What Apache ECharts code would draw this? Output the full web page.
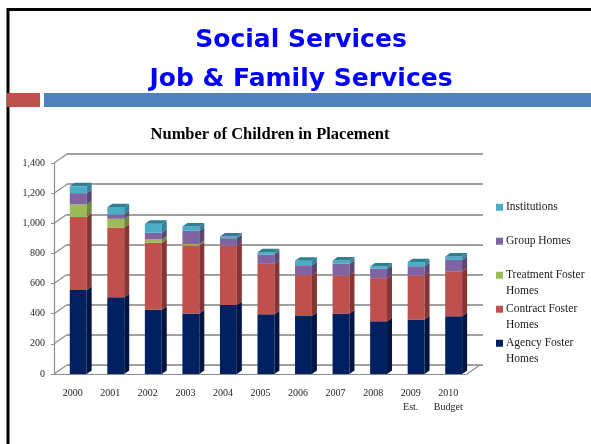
<!DOCTYPE html>
<html>
<head>
<meta charset="utf-8">
<script src="https://cdn.jsdelivr.net/npm/echarts@6/dist/echarts.min.js"></script>
<style>
  html, body { margin: 0; padding: 0; background: #fff; }
  #chart { width: 591px; height: 444px; }
</style>
</head>
<body>
<div id="chart"></div>
<script>
// Number of children in placement, by year and placement type
const years = ['2000', '2001', '2002', '2003', '2004', '2005', '2006', '2007', '2008', '2009\nEst.', '2010\nBudget'];
const agencyFoster    = [558, 510, 427, 401, 458, 396, 385, 401, 350, 361, 383];
const contractFoster  = [483, 462, 443, 452, 392, 335, 271, 252, 286, 292, 299];
const treatmentFoster = [84, 58, 23, 9, 0, 0, 0, 0, 0, 0, 0];
const groupHomes      = [75, 29, 44, 88, 51, 62, 66, 78, 62, 62, 75];
const institutions    = [45, 48, 60, 29, 11, 15, 29, 22, 15, 27, 23];
const yTickValues = [0, 200, 400, 600, 800, 1000, 1200, 1400];

// stack order, bottom to top
const layers = [
  { name: 'Agency Foster Homes',    data: agencyFoster,    front: '#002060', side: '#00153f', top: '#0a2a70' },
  { name: 'Contract Foster Homes',  data: contractFoster,  front: '#C0504D', side: '#853633', top: '#cf6461' },
  { name: 'Treatment Foster Homes', data: treatmentFoster, front: '#9BBB59', side: '#6e873c', top: '#adc874' },
  { name: 'Group Homes',            data: groupHomes,      front: '#8064A2', side: '#5a4674', top: '#9580b2' },
  { name: 'Institutions',           data: institutions,    front: '#4BACC6', side: '#31849B', top: '#2f7f94' }
];
const legendOrder = ['Institutions', 'Group Homes', 'Treatment Foster Homes', 'Contract Foster Homes', 'Agency Foster Homes'];
// blank first line keeps each swatch level with the first text line
const legendText = {
  'Institutions': '\nInstitutions\n',
  'Group Homes': '\nGroup Homes\n',
  'Treatment Foster Homes': '\nTreatment Foster\nHomes',
  'Contract Foster Homes': '\nContract Foster\nHomes',
  'Agency Foster Homes': '\nAgency Foster\nHomes'
};

// 3-D look: depth offsets of the back wall and of each column
const WALL_DX = 13, WALL_DY = 9;
const BAR_DX = 5, BAR_DY = 3.5;
const FRONT = { left: 54, top: 163, width: 413, height: 211 };

// cumulative bases for the stacked columns
const bases = years.map(() => 0);
const topLayer = years.map((_, i) => {
  let t = -1;
  layers.forEach((l, k) => { if (l.data[i] > 0) t = k; });
  return t;
});
const barSeries = layers.map((layer, k) => {
  const data = years.map((_, i) => {
    const b = bases[i];
    const t = b + layer.data[i];
    bases[i] = t;
    return [i, b, t, topLayer[i] === k ? 1 : 0];
  });
  return {
    name: layer.name,
    type: 'custom',
    xAxisIndex: 0,
    yAxisIndex: 0,
    z: 10,
    itemStyle: { color: layer.front },
    encode: { x: 0, y: [1, 2] },
    data: data,
    renderItem: function (params, api) {
      const i = api.value(0), b = api.value(1), t = api.value(2), isTop = api.value(3);
      if (t <= b) return null;
      const band = api.size([1, 0])[0];
      const p0 = api.coord([i, b]);
      const p1 = api.coord([i, t]);
      const w = band * 0.45;
      const L = p0[0] - band * 0.08;
      const R = L + w;
      const yb = p0[1], yt = p1[1];
      const children = [
        { type: 'rect', shape: { x: L, y: yt, width: w, height: yb - yt }, style: { fill: layer.front } },
        { type: 'polygon', shape: { points: [[R, yt], [R + BAR_DX, yt - BAR_DY], [R + BAR_DX, yb - BAR_DY], [R, yb]] }, style: { fill: layer.side } }
      ];
      if (isTop) {
        children.push({ type: 'polygon', shape: { points: [[L, yt], [L + BAR_DX, yt - BAR_DY], [R + BAR_DX, yt - BAR_DY], [R, yt]] }, style: { fill: layer.top } });
      }
      return { type: 'group', children: children };
    }
  };
});

// left wall diagonals and the right floor edge
const wallSeries = {
  type: 'custom',
  silent: true,
  xAxisIndex: 0,
  yAxisIndex: 0,
  z: 2,
  data: yTickValues.map(v => [0, v]),
  encode: { x: 0, y: 1 },
  renderItem: function (params, api) {
    const v = api.value(1);
    const cs = params.coordSys;
    const y = api.coord([0, v])[1];
    const children = [
      { type: 'line', shape: { x1: cs.x, y1: y, x2: cs.x + WALL_DX, y2: y - WALL_DY }, style: { stroke: '#8c8c8c', lineWidth: 1.2 } }
    ];
    if (v === 0) {
      children.push({ type: 'line', shape: { x1: cs.x + cs.width, y1: y, x2: cs.x + cs.width + WALL_DX, y2: y - WALL_DY }, style: { stroke: '#8c8c8c', lineWidth: 1.2 } });
    }
    return { type: 'group', children: children };
  }
};

const serif = "'Liberation Serif', 'DejaVu Serif', serif";
const chart = echarts.init(document.getElementById('chart'), null, { renderer: 'canvas' });
chart.setOption({
  animation: false,
  backgroundColor: '#ffffff',
  graphic: [
    { type: 'line', shape: { x1: 8, y1: 9.5, x2: 591, y2: 9.5 }, style: { stroke: '#000', lineWidth: 3 } },
    { type: 'line', shape: { x1: 8, y1: 8, x2: 8, y2: 444 }, style: { stroke: '#000', lineWidth: 3 } },
    { type: 'rect', shape: { x: 7, y: 93, width: 33, height: 14 }, style: { fill: '#C0504D' } },
    { type: 'rect', shape: { x: 44, y: 93, width: 547, height: 14 }, style: { fill: '#4F81BD' } },
    { type: 'text', x: 301, y: 40, style: { text: 'Social Services', align: 'center', verticalAlign: 'middle', fill: '#0000FF', font: "bold 25px 'DejaVu Sans', sans-serif" } },
    { type: 'text', x: 301, y: 79, style: { text: 'Job & Family Services', align: 'center', verticalAlign: 'middle', fill: '#0000FF', font: "bold 25px 'DejaVu Sans', sans-serif" } },
    { type: 'text', x: 270, y: 135, style: { text: 'Number of Children in Placement', align: 'center', verticalAlign: 'middle', fill: '#000', font: "bold 16.5px " + serif } }
  ],
  legend: {
    orient: 'vertical',
    left: 496,
    top: 184,
    padding: 0,
    itemWidth: 7,
    itemHeight: 7,
    itemGap: -12.5,
    icon: 'rect',
    selectedMode: false,
    data: legendOrder,
    formatter: name => legendText[name],
    textStyle: { fontFamily: serif, fontSize: 11.5, color: '#1a1a1a', lineHeight: 15.5, padding: [0, 0, 0, -2] }
  },
  grid: [
    { left: FRONT.left, top: FRONT.top, width: FRONT.width, height: FRONT.height },
    { left: FRONT.left + WALL_DX, top: FRONT.top - WALL_DY, width: FRONT.width + 3, height: FRONT.height }
  ],
  xAxis: [
    {
      type: 'category', gridIndex: 0, data: years, boundaryGap: true,
      axisLine: { lineStyle: { color: '#8c8c8c', width: 1.2 } },
      axisTick: { length: 4, interval: 0, lineStyle: { color: '#8c8c8c' } },
      axisLabel: { interval: 0, fontFamily: serif, fontSize: 10, color: '#262626', margin: 12, lineHeight: 14 }
    },
    { type: 'value', gridIndex: 1, min: 0, max: 1, show: false }
  ],
  yAxis: [
    {
      type: 'value', gridIndex: 0, min: 0, max: 1400, interval: 200,
      axisLine: { show: true, lineStyle: { color: '#8c8c8c', width: 1.2 } },
      axisTick: { show: true, length: 3, lineStyle: { color: '#8c8c8c' } },
      splitLine: { show: false },
      axisLabel: { fontFamily: serif, fontSize: 10, color: '#262626', margin: 9, formatter: v => v.toLocaleString('en-US') }
    },
    {
      type: 'value', gridIndex: 1, min: 0, max: 1400, interval: 200,
      axisLine: { show: false }, axisTick: { show: false }, axisLabel: { show: false },
      splitLine: { show: true, lineStyle: { color: '#a0a0a0', width: 2 } }
    }
  ],
  series: [wallSeries].concat(barSeries)
});
</script>
</body>
</html>
